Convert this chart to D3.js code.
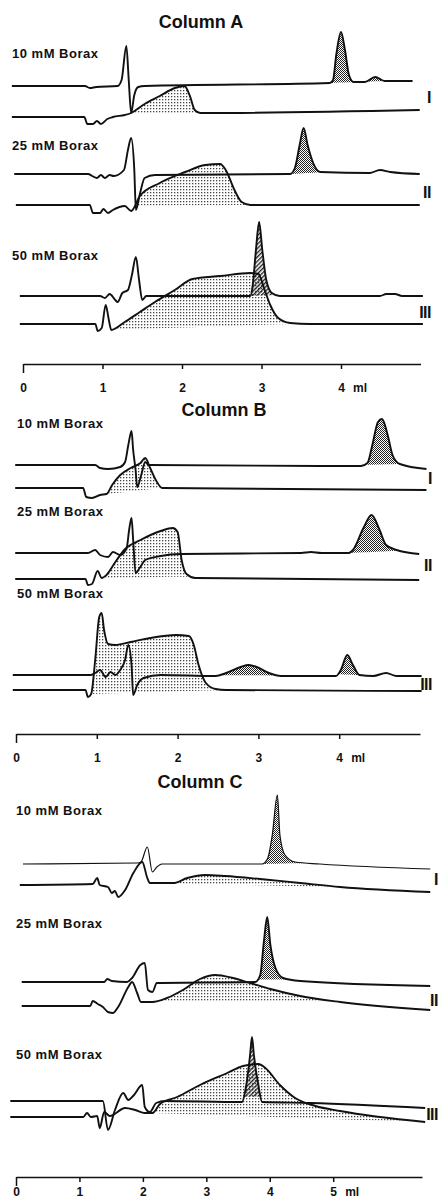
<!DOCTYPE html>
<html>
<head>
<meta charset="utf-8">
<script src="https://cdn.jsdelivr.net/npm/d3@7"></script>
<style>
  body { margin: 0; background: #fff; }
  svg { display: block; }
  text { font-family: "Liberation Sans", Arial, sans-serif; font-weight: bold; fill: #111; }
</style>
</head>
<body>
<svg id="chart" width="439" height="1202"></svg>
<script>
// ---- data: elution volume (ml) vs detector signal (arbitrary units, 0 = own baseline)
const columnNames = ["Column A", "Column B", "Column C"];
const boraxLabels = ["10 mM Borax", "25 mM Borax", "50 mM Borax"];
const runNumerals = ["I", "II", "III"];
const ticksAB = [0, 1, 2, 3, 4];
const ticksC = [0, 1, 2, 3, 4, 5];

// Column A
const colA_10_upper = [[-0.14,0],[0.78,0],[0.84,-0.2],[0.92,-0.1],[1.19,0],[1.24,0.6],[1.30,4.0],[1.33,0.6],[1.36,-2.7],[1.40,-0.9],[1.45,-0.1],[1.53,0],[3.86,0.3],[3.90,0.6],[3.94,3.1],[4.00,5.4],[4.05,3.6],[4.10,1.1],[4.16,0.4],[4.30,0.4],[4.43,0.9],[4.55,0.5],[4.90,0.5]];
const colA_10_lower = [[-0.14,0],[0.77,0],[0.81,-0.7],[0.88,-0.7],[0.93,-0.4],[0.98,-0.7],[1.06,-0.2],[1.13,0],[1.28,0.2],[1.36,0.4],[1.53,1.3],[1.72,2.1],[1.91,2.9],[2.03,3.1],[2.10,2.1],[2.16,0.7],[2.23,0.4],[4.99,0.7]];
const colA_25_upper = [[-0.11,0],[0.82,0],[0.87,-0.2],[0.93,-0.4],[0.98,-0.1],[1.03,-0.4],[1.09,-0.1],[1.14,-0.2],[1.27,0.4],[1.32,2.4],[1.36,3.6],[1.40,0.4],[1.42,-3.6],[1.47,-2.0],[1.53,-0.4],[1.66,-0.1],[3.36,0],[3.42,0.6],[3.48,2.9],[3.53,4.6],[3.58,2.9],[3.65,1.1],[3.74,0.2],[4.36,0.1],[4.49,0.4],[4.62,0.2],[4.99,0]];
const colA_25_lower = [[-0.09,0],[0.84,0],[0.88,-0.8],[0.97,-0.8],[1.01,-0.4],[1.07,-0.8],[1.13,-0.5],[1.28,-0.1],[1.36,-0.6],[1.47,0.9],[1.72,2.2],[2.04,3.3],[2.29,4.0],[2.48,4.1],[2.55,3.5],[2.66,1.5],[2.75,0.3],[2.86,0],[4.99,0]];
const colA_50_upper = [[-0.04,0],[0.97,0],[1.03,-0.2],[1.09,0.2],[1.16,-0.4],[1.19,-0.6],[1.25,0.3],[1.32,0.6],[1.37,2.1],[1.42,3.9],[1.46,1.6],[1.50,-0.4],[1.55,0],[2.86,0],[2.89,1.1],[2.93,4.6],[2.97,7.4],[3.01,4.6],[3.06,1.6],[3.13,0.3],[3.23,0],[4.49,0],[4.57,0.2],[4.68,0.2],[4.77,0],[5.03,0]];
const colA_50_lower = [[-0.04,0],[0.91,0],[0.94,-0.7],[0.99,-0.4],[1.04,1.9],[1.08,0.4],[1.11,-0.6],[1.28,0.2],[1.47,1.2],[1.66,2.2],[1.91,3.4],[2.13,4.5],[2.48,4.8],[2.86,5.1],[2.96,5.0],[3.04,3.4],[3.11,1.9],[3.21,0.6],[3.36,0.1],[3.61,0],[5.03,0]];

// Column B
const colB_10_upper = [[-0.01,0],[0.98,0],[1.04,-0.3],[1.14,-0.4],[1.29,-0.2],[1.35,0.3],[1.39,2.0],[1.43,3.4],[1.45,1.5],[1.48,-0.5],[1.50,-2.2],[1.55,-1.0],[1.60,0.3],[1.64,0],[4.27,-0.1],[4.35,0.2],[4.41,2.0],[4.48,4.3],[4.53,4.6],[4.60,3.0],[4.66,1.0],[4.75,0.1],[5.08,-0.4]];
const colB_10_lower = [[-0.01,0],[0.83,0],[0.87,-0.9],[0.94,-1.0],[1.04,-0.7],[1.12,-0.6],[1.19,0.3],[1.29,1.3],[1.42,2.0],[1.54,2.5],[1.60,3.0],[1.66,2.0],[1.73,0.8],[1.81,0],[5.08,-0.2]];
const colB_25_upper = [[-0.01,0],[0.89,0],[0.98,0.3],[1.04,-0.2],[1.14,-0.4],[1.20,0.1],[1.29,-0.2],[1.37,0.5],[1.40,2.3],[1.43,3.5],[1.45,1.3],[1.48,-2.0],[1.53,-1.5],[1.60,-0.7],[1.79,-0.3],[2.04,-0.1],[3.53,0],[3.65,0.1],[3.78,0],[4.12,0],[4.17,0.3],[4.30,2.5],[4.40,3.8],[4.50,2.3],[4.58,0.8],[4.71,0.3],[4.99,-0.1]];
const colB_25_lower = [[-0.01,0],[0.86,0],[0.89,-0.6],[0.94,-0.5],[1.01,0.8],[1.06,0.1],[1.12,0.4],[1.23,1.7],[1.35,3.0],[1.54,3.9],[1.79,4.8],[1.94,5.1],[2.00,4.7],[2.05,1.9],[2.11,0.5],[2.22,0.1],[4.99,-0.1]];
const colB_50_upper = [[-0.04,0],[0.92,0],[0.98,0.2],[1.04,0.5],[1.11,-0.2],[1.17,0.3],[1.23,0],[1.29,0.5],[1.35,1.5],[1.39,3.0],[1.43,1.0],[1.45,-2.0],[1.50,-1.0],[1.58,-0.3],[1.79,0],[2.47,-0.1],[2.60,0.2],[2.78,0.8],[2.88,1.0],[2.98,0.8],[3.13,0.2],[3.28,-0.1],[3.96,-0.1],[4.02,0.5],[4.10,2.0],[4.17,1.0],[4.25,0],[4.42,-0.1],[4.58,0.2],[4.71,-0.1],[5.02,-0.1]];
const colB_50_lower = [[-0.04,0],[0.86,0],[0.89,-0.7],[0.93,-0.4],[0.98,3.0],[1.03,7.3],[1.06,7.7],[1.09,6.0],[1.14,4.6],[1.23,4.5],[1.42,4.8],[1.66,5.2],[1.98,5.5],[2.14,5.4],[2.20,4.5],[2.26,2.5],[2.35,0.7],[2.47,0.1],[2.60,0],[5.02,-0.1]];

// Column C
const colC_10_upper = [[0.11,0],[1.91,0.1],[1.97,0.2],[2.07,1.7],[2.15,-0.8],[2.22,-0.3],[2.30,0],[3.88,0],[3.97,0.6],[4.04,2.9],[4.12,6.9],[4.16,2.9],[4.24,0.9],[4.40,0.2],[4.79,0],[6.53,-0.5]];
const colC_10_lower = [[0.06,0],[1.21,0.1],[1.28,0.7],[1.32,0],[1.45,-0.2],[1.51,-0.8],[1.56,-0.6],[1.61,-1.2],[1.72,-0.5],[1.85,1.2],[1.99,2.3],[2.07,0.7],[2.11,0.2],[2.48,0.2],[2.70,0.7],[2.98,1.0],[3.30,0.9],[3.85,0.6],[4.48,0.2],[5.11,-0.2],[6.53,-0.7]];
const colC_25_upper = [[0.09,0],[1.39,0],[1.44,0.3],[1.51,0.1],[1.75,0],[1.83,0.4],[1.96,1.7],[2.03,1.9],[2.08,-0.8],[2.15,-1.0],[2.22,-0.1],[3.77,0],[3.85,0.7],[3.91,4.2],[3.96,6.5],[4.01,3.7],[4.09,1.4],[4.21,0.4],[4.48,0.1],[6.53,-0.4]];
const colC_25_lower = [[0.09,0],[1.17,0],[1.21,0.5],[1.29,0.2],[1.37,-0.1],[1.45,-0.6],[1.53,-0.7],[1.61,-0.1],[1.77,1.9],[1.83,2.4],[1.91,1.3],[1.97,0.4],[2.15,0.4],[2.38,0.8],[2.63,1.6],[2.90,2.7],[3.14,3.1],[3.42,2.8],[3.69,2.3],[4.01,1.7],[4.48,1.0],[5.11,0.4],[6.53,-0.4]];
const colC_50_upper = [[-0.09,0],[1.37,0],[1.45,-2.9],[1.56,-0.9],[1.69,0.8],[1.77,0.1],[1.86,0.6],[1.99,1.6],[2.03,-0.6],[2.11,-1.1],[2.21,-0.2],[2.35,0],[3.56,-0.1],[3.63,1.6],[3.69,4.6],[3.72,6.4],[3.75,4.6],[3.82,1.6],[3.88,-0.1],[4.64,-0.2],[6.45,-0.7]];
const colC_50_lower = [[-0.09,0],[1.06,0],[1.12,0.4],[1.18,0],[1.28,0.1],[1.32,-1.1],[1.39,0.5],[1.48,0.1],[1.72,0.9],[1.88,0.7],[2.03,0.4],[2.15,0.4],[2.27,1.3],[2.54,2.0],[2.90,3.2],[3.33,4.4],[3.58,5.1],[3.82,5.3],[3.93,4.9],[4.16,3.2],[4.40,1.9],[4.72,1.1],[5.11,0.6],[6.45,-0.5]];

// shaded bands: [run, line, from ml, to ml]
const colA_broadBands = [[0,"lower",1.36,2.23],[1,"lower",1.40,2.86],[2,"lower",1.11,3.50]];
const colA_sharpBands = [[0,"upper",3.86,4.55],[1,"upper",3.36,3.80]];
const colA_hatchBands = [[2,"upper",2.86,3.20]];
const colB_broadBands = [[0,"lower",1.12,1.81],[1,"lower",1.06,2.18],[2,"lower",0.93,2.60]];
const colB_sharpBands = [[0,"upper",4.30,4.75],[1,"upper",4.12,4.75],[2,"upper",2.50,3.25],[2,"upper",3.98,4.25]];
const colB_hatchBands = [];
const colC_broadBands = [[0,"lower",2.11,5.11],[1,"lower",2.15,5.11],[2,"lower",2.15,6.45]];
const colC_sharpBands = [[0,"upper",3.88,4.60],[1,"upper",3.80,4.35]];
const colC_hatchBands = [[2,"upper",3.58,3.86]];

const columns = [
  { runs: [[colA_10_upper, colA_10_lower], [colA_25_upper, colA_25_lower], [colA_50_upper, colA_50_lower]],
    broad: colA_broadBands, sharp: colA_sharpBands, hatch: colA_hatchBands, ticks: ticksAB },
  { runs: [[colB_10_upper, colB_10_lower], [colB_25_upper, colB_25_lower], [colB_50_upper, colB_50_lower]],
    broad: colB_broadBands, sharp: colB_sharpBands, hatch: colB_hatchBands, ticks: ticksAB },
  { runs: [[colC_10_upper, colC_10_lower], [colC_25_upper, colC_25_lower], [colC_50_upper, colC_50_lower]],
    broad: colC_broadBands, sharp: colC_sharpBands, hatch: colC_hatchBands, ticks: ticksC }
];

// ---- layout (pixels)
const layout = [
  { xDomain: [0, 5], xRange: [23, 420.5], titleX: 201, titleY: 28, axisY: 364, pad: 14, labelX: 12, numX: 431,
    sets: [{ label: 58, upper: 86, lower: 117, num: 103 }, { label: 150, upper: 174, lower: 205, num: 198 }, { label: 260, upper: 296, lower: 324, num: 318 }] },
  { xDomain: [0, 5], xRange: [16, 420], titleX: 224, titleY: 416, axisY: 734, pad: 14, labelX: 17, numX: 432,
    sets: [{ label: 428, upper: 465, lower: 488, num: 484 }, { label: 516, upper: 553, lower: 579, num: 571 }, { label: 598, upper: 675, lower: 690, num: 690 }] },
  { xDomain: [0, 6.4], xRange: [16, 422], titleX: 200, titleY: 788, axisY: 1177, pad: 5, labelX: 16, numX: 438,
    sets: [{ label: 815, upper: 864, lower: 885, num: 885 }, { label: 928, upper: 982, lower: 1006, num: 1006 }, { label: 1059, upper: 1101, lower: 1117, num: 1120 }] }
];

const svg = d3.select("#chart");
const defs = svg.append("defs");

// dotted fill for the broad peaks
const dots = defs.append("pattern").attr("id", "dots")
    .attr("width", 3).attr("height", 3).attr("patternUnits", "userSpaceOnUse");
dots.append("rect").attr("width", 1.3).attr("height", 1.3).attr("fill", "#444");

// dense checker for the sharp peaks
const dense = defs.append("pattern").attr("id", "dense")
    .attr("width", 2).attr("height", 2).attr("patternUnits", "userSpaceOnUse");
dense.append("rect").attr("width", 1).attr("height", 1).attr("fill", "#222");
dense.append("rect").attr("x", 1).attr("y", 1).attr("width", 1).attr("height", 1).attr("fill", "#222");

// diagonal hatch where peaks overlap
const hatch = defs.append("pattern").attr("id", "hatch")
    .attr("width", 3).attr("height", 3).attr("patternUnits", "userSpaceOnUse")
    .attr("patternTransform", "rotate(45)");
hatch.append("rect").attr("width", 1.4).attr("height", 3).attr("fill", "#222");

function valueAt(pts, ml) {
    for (let i = 0; i < pts.length - 1; i++) {
        if (ml >= pts[i][0] && ml <= pts[i + 1][0]) {
            const t = (ml - pts[i][0]) / (pts[i + 1][0] - pts[i][0]);
            return pts[i][1] + t * (pts[i + 1][1] - pts[i][1]);
        }
    }
    return pts[pts.length - 1][1];
}

columns.forEach(function (col, ci) {
    const lay = layout[ci];
    const g = svg.append("g").attr("class", "column");
    const x = d3.scaleLinear().domain(lay.xDomain).range(lay.xRange);

    g.append("text")
        .attr("x", lay.titleX).attr("y", lay.titleY)
        .attr("text-anchor", "middle")
        .style("font-size", "18px")
        .text(columnNames[ci]);

    col.runs.forEach(function (run, ri) {
        const set = lay.sets[ri];
        const yScales = {
            upper: d3.scaleLinear().domain([0, 1]).range([set.upper, set.upper - 10]),
            lower: d3.scaleLinear().domain([0, 1]).range([set.lower, set.lower - 10])
        };
        const lines = { upper: run[0], lower: run[1] };

        g.append("text")
            .attr("x", lay.labelX).attr("y", set.label)
            .style("font-size", "13px")
            .style("letter-spacing", "0.5px")
            .text(boraxLabels[ri]);

        // shading
        [["broad", "dots"], ["sharp", "dense"], ["hatch", "hatch"]].forEach(function (kind) {
            col[kind[0]].filter(b => b[0] === ri).forEach(function (b) {
                const pts = lines[b[1]];
                const y = yScales[b[1]];
                const from = b[2], to = b[3];
                const v0 = valueAt(pts, from), v1 = valueAt(pts, to);
                const seg = [[from, v0]].concat(pts.filter(p => p[0] > from && p[0] < to), [[to, v1]]);
                const area = d3.area()
                    .x(d => x(d[0]))
                    .y0(d => y(v0 + (v1 - v0) * (d[0] - from) / (to - from)))
                    .y1(d => y(d[1]))
                    .curve(d3.curveMonotoneX);
                g.append("path")
                    .attr("d", area(seg))
                    .attr("fill", "url(#" + kind[1] + ")")
                    .attr("stroke", "none");
            });
        });

        // traces
        ["upper", "lower"].forEach(function (key) {
            const y = yScales[key];
            const line = d3.line().x(d => x(d[0])).y(d => y(d[1])).curve(d3.curveMonotoneX);
            g.append("path")
                .attr("d", line(lines[key]))
                .attr("fill", "none")
                .attr("stroke", "#111")
                .attr("stroke-width", (ci === 2 && ri === 0 && key === "upper") ? 1.2 : 1.9)
                .attr("stroke-linejoin", "round");
        });

        g.append("text")
            .attr("x", lay.numX).attr("y", set.num)
            .attr("text-anchor", "end")
            .style("font-size", "16px")
            .style("letter-spacing", "-0.5px")
            .text(runNumerals[ri]);
    });

    // volume axis
    const axis = d3.axisBottom(x)
        .tickValues(col.ticks)
        .tickSize(5)
        .tickSizeOuter(0)
        .tickPadding(lay.pad)
        .tickFormat(d3.format("d"));
    const ax = g.append("g")
        .attr("transform", "translate(0," + lay.axisY + ")")
        .call(axis);
    ax.select(".domain").attr("stroke", "#111").attr("stroke-width", 1.6);
    ax.selectAll(".tick line").attr("stroke", "#111").attr("stroke-width", 1.5);
    ax.selectAll(".tick").filter(d => d === 0).select("line").attr("y2", 9);
    ax.selectAll(".tick text")
        .style("font-family", "'Liberation Sans', Arial, sans-serif")
        .style("font-weight", "bold")
        .style("font-size", "12px")
        .attr("fill", "#111");
    const last = col.ticks[col.ticks.length - 1];
    g.append("text")
        .attr("x", x(last) + 12)
        .attr("y", lay.axisY + 5 + lay.pad)
        .attr("dy", "0.71em")
        .style("font-size", "12px")
        .text("ml");
});
</script>
</body>
</html>
